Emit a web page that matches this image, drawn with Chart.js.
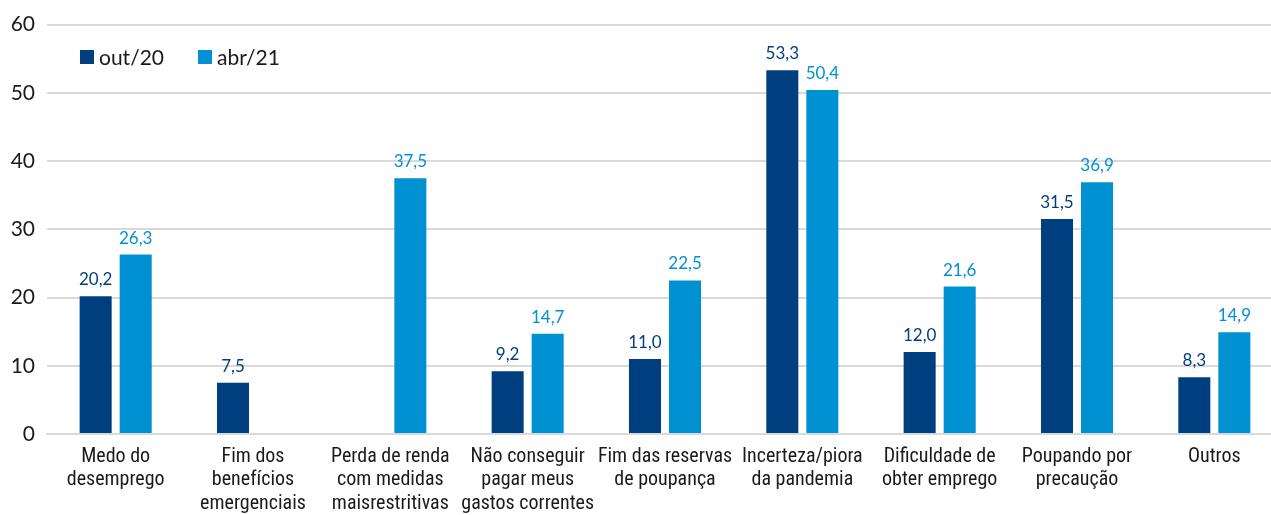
<!DOCTYPE html>
<html><head><meta charset="utf-8">
<script src="https://cdn.jsdelivr.net/npm/chart.js@4"></script>
<style>html,body{margin:0;padding:0;background:#fff;overflow:hidden}#wrap{width:1271px;height:515px;overflow:hidden}</style>
</head><body><div id="wrap"><canvas id="c" width="1283" height="515"></canvas></div>
<script>
const categories = [
  ["Medo do","desemprego"],
  ["Fim dos","benefícios","emergenciais"],
  ["Perda de renda","com medidas","maisrestritivas"],
  ["Não conseguir","pagar meus","gastos correntes"],
  ["Fim das reservas","de poupança"],
  ["Incerteza/piora","da pandemia"],
  ["Dificuldade de","obter emprego"],
  ["Poupando por","precaução"],
  ["Outros"]
];
const seriesNames = ["out/20","abr/21"];
const out20 = [20.2, 7.5, null, 9.2, 11.0, 53.3, 12.0, 31.5, 8.3];
const abr21 = [26.3, null, 37.5, 14.7, 22.5, 50.4, 21.6, 36.9, 14.9];
const yTicks = [0,10,20,30,40,50,60];
const colors = ["#003F7F","#0091D2"];

const labelPlugin = {
  id:'vals',
  afterDatasetsDraw(chart){
    const ctx = chart.ctx;
    ctx.save();
    ctx.font = '17px Lato, "Open Sans", sans-serif';
    ctx.textAlign='center'; ctx.textBaseline='alphabetic';
    chart.data.datasets.forEach((ds,i)=>{
      const meta = chart.getDatasetMeta(i);
      ctx.fillStyle = colors[i];
      meta.data.forEach((el,j)=>{
        const v = ds.data[j];
        if(v===null||v===undefined) return;
        ctx.fillText(v.toFixed(1).replace('.',','), el.x, el.y-11);
      });
    });
    ctx.font = '21px Lato, "Open Sans", sans-serif';
    ctx.textAlign='left'; ctx.textBaseline='middle';
    const xs=[80,198];
    seriesNames.forEach((n,i)=>{
      ctx.fillStyle=colors[i];
      ctx.fillRect(xs[i],50,14,14);
      ctx.fillStyle='#1a1a1a';
      ctx.fillText(n, xs[i]+19, 58);
    });
    ctx.restore();
  }
};

new Chart(document.getElementById('c'),{
  type:'bar',
  data:{labels:categories,datasets:[
    {label:seriesNames[0],data:out20,backgroundColor:colors[0]},
    {label:seriesNames[1],data:abr21,backgroundColor:colors[1]}
  ]},
  options:{
    responsive:false,animation:false,
    categoryPercentage:0.583,barPercentage:0.8,
    layout:{padding:{top:14,right:0,left:0,bottom:0}},
    plugins:{legend:{display:false},tooltip:{enabled:false}},
    scales:{
      x:{
        grid:{display:false},
        border:{display:true,color:'#d9d9d9',width:2},
        ticks:{color:'#1a1a1a',font:{family:'"Liberation Sans Narrow","Roboto Condensed","Liberation Sans",sans-serif',size:20,lineHeight:1.17},maxRotation:0,autoSkip:false,padding:3},
        afterFit(s){s.height=81;}
      },
      y:{
        min:0,max:60,
        afterBuildTicks(s){s.ticks=yTicks.map(v=>({value:v}));},
        grid:{color:'#d9d9d9',lineWidth:2,drawTicks:false},
        border:{display:false},
        ticks:{color:'#1a1a1a',font:{family:'Lato,"Open Sans",sans-serif',size:21},padding:12},
        afterFit(s){s.width=47;}
      }
    }
  },
  plugins:[labelPlugin]
});
</script></body></html>
